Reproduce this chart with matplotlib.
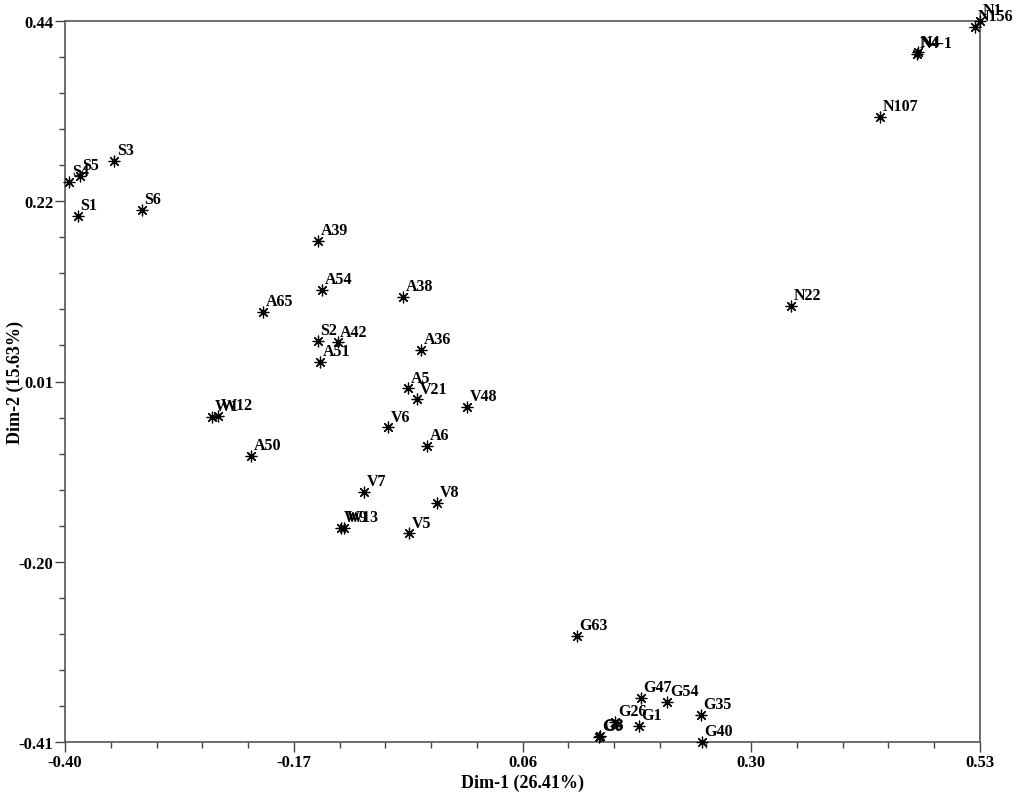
import matplotlib
matplotlib.use("Agg")
import matplotlib.pyplot as plt
import numpy as np

labels = ["S4", "S5", "S3", "S1", "S6",
          "N1", "N156", "N4", "N4-1", "N107", "N22",
          "A39", "A54", "A65", "A38", "S2", "A42", "A51", "A36",
          "A5", "V21", "V48", "V6", "A6", "W1", "W12", "A50",
          "V7", "V8", "W9", "W13", "V5",
          "G63", "G47", "G54", "G35", "G26", "G1", "G6", "G8", "G40"]
dim1 = [-0.396, -0.385, -0.350, -0.387, -0.322,
        0.530, 0.525, 0.467, 0.466, 0.428, 0.338,
        -0.143, -0.139, -0.199, -0.056, -0.143, -0.123, -0.141, -0.038,
        -0.051, -0.042, 0.009, -0.072, -0.032, -0.251, -0.245, -0.211,
        -0.096, -0.022, -0.119, -0.116, -0.050,
        0.120, 0.185, 0.212, 0.246, 0.159, 0.183, 0.143, 0.144, 0.247]
dim2 = [0.250, 0.257, 0.275, 0.210, 0.217,
        0.440, 0.433, 0.403, 0.401, 0.327, 0.104,
        0.181, 0.123, 0.097, 0.115, 0.063, 0.061, 0.038, 0.052,
        0.007, -0.006, -0.015, -0.039, -0.061, -0.027, -0.026, -0.073,
        -0.115, -0.128, -0.158, -0.158, -0.164,
        -0.285, -0.358, -0.363, -0.378, -0.386, -0.391, -0.404, -0.403, -0.410]

xticklabels = ["-0.40", "-0.17", "0.06", "0.30", "0.53"]
yticklabels = ["-0.41", "-0.20", "0.01", "0.22", "0.44"]
xlim = (-0.40, 0.53)
ylim = (-0.41, 0.44)

plt.rcParams['font.family'] = ['Liberation Serif', 'DejaVu Serif']

fig = plt.figure(figsize=(10.24, 8.03), dpi=100)
ax = fig.add_axes([65/1024, 1-743/803, (980-65)/1024, (743-22)/803])

ax.scatter(dim1, dim2, marker=(8, 2, 0), s=60, color='black', linewidths=0.9,
           clip_on=False, zorder=3)
for lab, x, y in zip(labels, dim1, dim2):
    ax.annotate(lab, (x, y), xytext=(2, 2), textcoords='offset points',
                ha='left', va='bottom', fontsize=11.5, fontweight='bold',
                annotation_clip=False)

ax.set_xlim(*xlim)
ax.set_ylim(*ylim)
ax.set_xticks(np.linspace(xlim[0], xlim[1], 5))
ax.set_xticklabels(xticklabels)
ax.set_yticks(np.linspace(ylim[0], ylim[1], 5))
ax.set_yticklabels(yticklabels)
ax.set_xticks(np.linspace(xlim[0], xlim[1], 21), minor=True)
ax.set_yticks(np.linspace(ylim[0], ylim[1], 21), minor=True)
ax.tick_params(which='major', direction='out', length=7, width=1, color='#444444',
               labelsize=12, pad=1.5)
ax.tick_params(which='minor', direction='out', length=4, width=1, color='#444444')
for t in ax.get_xticklabels() + ax.get_yticklabels():
    t.set_fontweight('bold')
for s in ax.spines.values():
    s.set_color('#555555')
    s.set_linewidth(1.2)

ax.set_xlabel("Dim-1 (26.41%)", fontsize=13, fontweight='bold')
ax.set_ylabel("Dim-2 (15.63%)", fontsize=13, fontweight='bold')
ax.xaxis.set_label_coords(0.5, -0.044)
ax.yaxis.set_label_coords(-0.045, 0.5)

fig.savefig("out.png", dpi=100)
